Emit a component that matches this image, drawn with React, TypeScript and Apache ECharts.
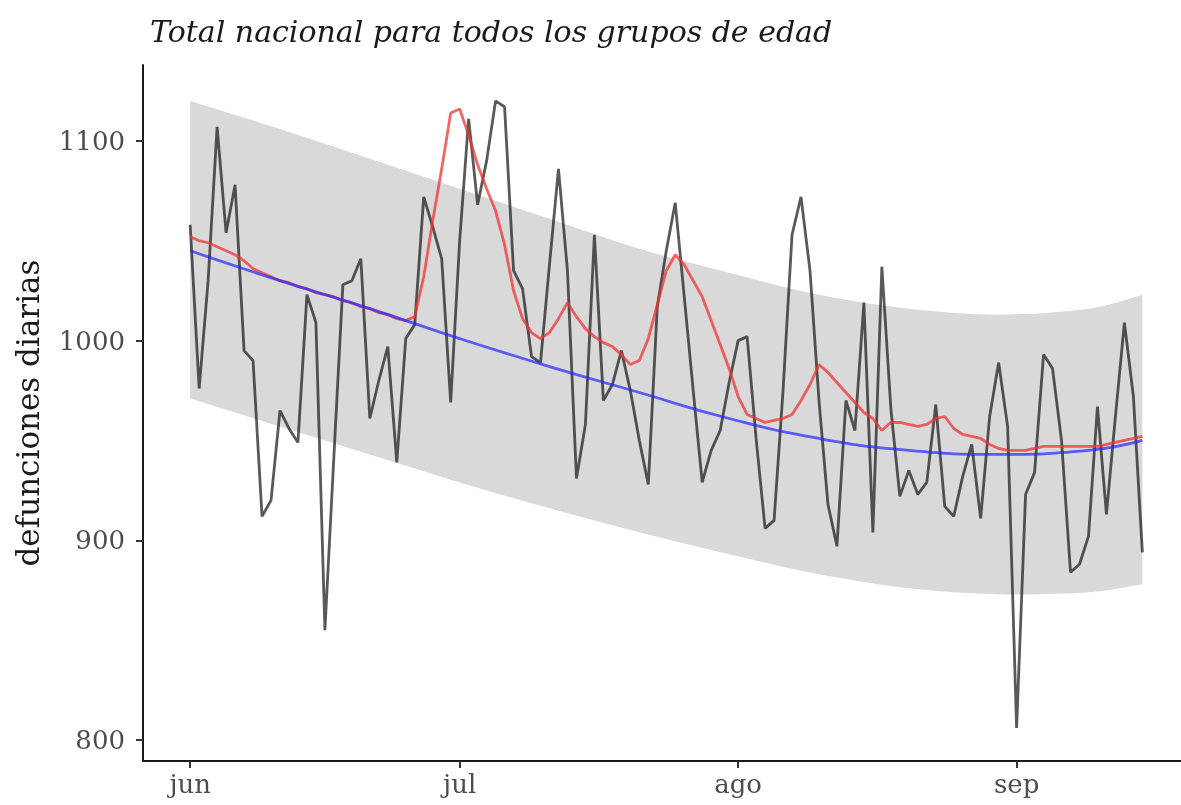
import React, { useEffect, useRef } from "react";
import * as echarts from "echarts";

const chartTitle = "Total nacional para todos los grupos de edad";
const yTitle = "defunciones diarias";
const monthTicks = [0, 30, 61, 92];
const monthLabels = ["jun", "jul", "ago", "sep"];
const yTicks = [800, 900, 1000, 1100];

// daily deaths, day 0 = 1 June
const deaths = [
  1058, 976, 1030, 1107, 1054, 1078, 995, 990, 912, 920,
  965, 956, 949, 1023, 1009, 855, 942, 1028, 1030, 1041,
  961, 980, 997, 939, 1001, 1008, 1072, 1057, 1041, 969,
  1050, 1111, 1068, 1090, 1120, 1117, 1035, 1026, 992, 989,
  1038, 1086, 1035, 931, 958, 1053, 970, 978, 995, 975,
  950, 928, 1017, 1045, 1069, 1022, 975, 929, 945, 955,
  979, 1000, 1002, 951, 906, 910, 975, 1053, 1072, 1035,
  970, 918, 897, 970, 955, 1019, 904, 1037, 966, 922,
  935, 923, 929, 968, 917, 912, 932, 948, 911, 962,
  989, 957, 806, 923, 934, 993, 986, 950, 884, 888,
  902, 967, 913, 962, 1009, 972, 894,
];

// red smoothed series
const average = [
  1052, 1050, 1049, 1047, 1045, 1043, 1040, 1036, 1034, 1032,
  1030, 1029, 1027, 1026, 1024, 1023, 1022, 1020, 1019, 1017,
  1016, 1014, 1013, 1011, 1010, 1012, 1032, 1060, 1086, 1114,
  1116, 1103, 1088, 1076, 1065, 1048, 1025, 1011, 1004, 1001,
  1004, 1011, 1019, 1012, 1006, 1002, 999, 997, 993, 988,
  990, 1001, 1018, 1035, 1043, 1038, 1030, 1022, 1010, 998,
  986, 972, 963, 961, 959, 960, 961, 963, 970, 978,
  988, 984, 979, 974, 969, 964, 961, 955, 959, 959,
  958, 957, 958, 961, 962, 956, 953, 952, 951, 948,
  946, 945, 945, 945, 946, 947, 947, 947, 947, 947,
  947, 947, 948, 949, 950, 951, 952,
];

// fitted trend and its band
const fitDays = [0, 10, 20, 30, 40, 50, 60, 70, 80, 90, 100, 106];
const fitLine = [1045, 1030, 1016, 1001, 987, 974, 961, 951, 945, 943, 945, 950];
const bandUpper = [1120, 1106, 1091, 1076, 1061, 1046, 1034, 1023, 1016, 1013, 1016, 1023];
const bandLower = [971, 957, 943, 929, 916, 904, 893, 883, 876, 873, 874, 878];

// Catmull-Rom style cubic segments through pixel points (continuing an open path)
function curveThrough(pts: number[][]): string {
  let s = "";
  for (let i = 0; i < pts.length - 1; i++) {
    const p0 = pts[Math.max(0, i - 1)];
    const p1 = pts[i];
    const p2 = pts[i + 1];
    const p3 = pts[Math.min(pts.length - 1, i + 2)];
    const c1x = p1[0] + (p2[0] - p0[0]) / 6;
    const c1y = p1[1] + (p2[1] - p0[1]) / 6;
    const c2x = p2[0] - (p3[0] - p1[0]) / 6;
    const c2y = p2[1] - (p3[1] - p1[1]) / 6;
    s += ` C ${c1x} ${c1y} ${c2x} ${c2y} ${p2[0]} ${p2[1]}`;
  }
  return s;
}

export default function App() {
  const ref = useRef<HTMLDivElement>(null);
  useEffect(() => {
    const chart = echarts.init(ref.current as HTMLDivElement, null, { renderer: "svg" });
    const font = "DejaVu Serif";
    chart.setOption({
      animation: false,
      title: {
        text: chartTitle,
        left: 145,
        top: 11,
        textStyle: {
          fontFamily: font,
          fontStyle: "italic",
          fontWeight: "normal",
          fontSize: 30,
          color: "#1a1a1a",
        },
      },
      grid: { left: 143, right: 0, top: 65, bottom: 44 },
      xAxis: {
        type: "value",
        min: -5.25,
        max: 110.3,
        z: 10,
        splitLine: { show: false },
        axisLine: { onZero: false, lineStyle: { color: "#1a1a1a", width: 2 } },
        axisTick: { customValues: monthTicks, length: 7, lineStyle: { color: "#333", width: 2 } },
        axisLabel: {
          customValues: monthTicks,
          formatter: (v: number) => {
            const i = monthTicks.indexOf(Math.round(v));
            return i >= 0 ? monthLabels[i] : "";
          },
          fontFamily: font,
          fontSize: 26,
          color: "#4d4d4d",
          margin: 10,
        },
      },
      yAxis: {
        type: "value",
        min: 789.5,
        max: 1138,
        z: 10,
        name: yTitle,
        nameLocation: "middle",
        nameGap: 100,
        nameTextStyle: { fontFamily: font, fontSize: 31, color: "#1a1a1a" },
        splitLine: { show: false },
        axisLine: { show: true, onZero: false, lineStyle: { color: "#1a1a1a", width: 2 } },
        axisTick: { show: true, customValues: yTicks, length: 7, lineStyle: { color: "#333", width: 2 } },
        axisLabel: {
          customValues: yTicks,
          formatter: (v: number) => String(Math.round(v)),
          fontFamily: font,
          fontSize: 26,
          color: "#4d4d4d",
          margin: 18,
        },
      },
      series: [
        {
          type: "custom",
          name: "band",
          silent: true,
          data: [[fitDays[0], bandUpper[0]]],
          renderItem: (params: any, api: any) => {
            const upper = fitDays.map((d, i) => api.coord([d, bandUpper[i]]));
            const lower = fitDays.map((d, i) => api.coord([d, bandLower[i]])).reverse();
            const pathData =
              `M ${upper[0][0]} ${upper[0][1]}` +
              curveThrough(upper) +
              ` L ${lower[0][0]} ${lower[0][1]}` +
              curveThrough(lower) +
              " Z";
            return {
              type: "path",
              shape: { pathData },
              style: { fill: "#d9d9d9", stroke: null },
            };
          },
          z: 1,
        },
        {
          type: "line",
          name: "deaths",
          showSymbol: false,
          symbol: "none",
          lineStyle: { color: "rgba(25,25,25,0.72)", width: 2.8 },
          data: deaths.map((v, i) => [i, v]),
          z: 3,
        },
        {
          type: "line",
          name: "average",
          showSymbol: false,
          symbol: "none",
          lineStyle: { color: "rgba(240,50,50,0.75)", width: 2.8 },
          data: average.map((v, i) => [i, v]),
          z: 4,
        },
        {
          type: "line",
          name: "fit",
          smooth: true,
          showSymbol: false,
          symbol: "none",
          lineStyle: { color: "rgba(40,40,255,0.72)", width: 2.8 },
          data: fitDays.map((d, i) => [d, fitLine[i]]),
          z: 5,
        },
      ],
    });
    return () => chart.dispose();
  }, []);
  return (
    <div
      ref={ref}
      style={{ position: "fixed", left: 0, top: 0, width: 1181, height: 805 }}
    />
  );
}
